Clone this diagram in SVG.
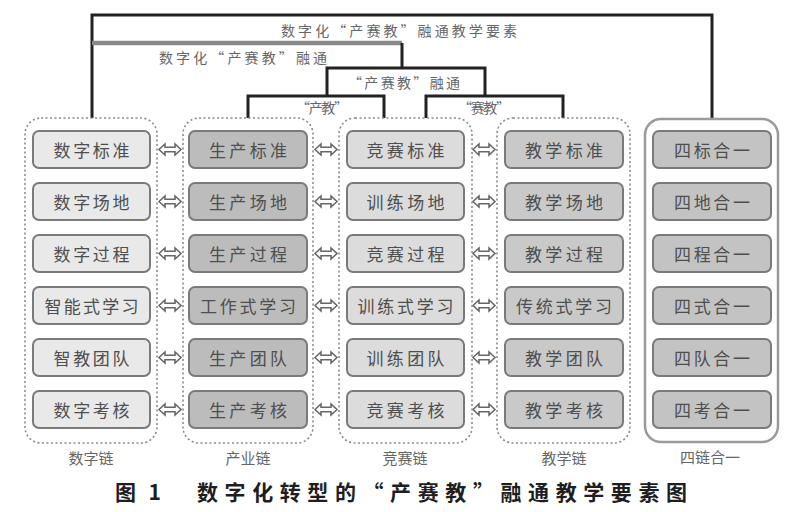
<svg xmlns="http://www.w3.org/2000/svg" xmlns:xlink="http://www.w3.org/1999/xlink" width="800" height="512" viewBox="0 0 800 512">
<style>
text{font-family:"Noto Sans CJK SC","Liberation Sans",sans-serif;}
.bl{font-size:14px;fill:#666;text-anchor:middle;dominant-baseline:central;}
.bt{font-size:17px;fill:#4e4e4e;text-anchor:middle;dominant-baseline:central;}
.cl{font-size:15px;fill:#666;text-anchor:middle;dominant-baseline:central;}
.cap{font-size:21px;font-weight:bold;fill:#1e1e1e;dominant-baseline:central;}
.grp{fill:none;stroke:#8a8a8a;stroke-width:1.6;stroke-dasharray:2 2.5;}
.grp5{fill:none;stroke:#9a9a9a;stroke-width:2.5;}
.box{stroke:#7a7a7a;stroke-width:2;}
.c1{fill:#e9e9e9;}.c2{fill:#bcbcbc;}.c3{fill:#dcdcdc;}.c4{fill:#c9c9c9;}.c5{fill:#c3c3c3;}
.br{fill:none;stroke:#222;stroke-width:3;}
.br2{fill:none;stroke:#8a8a8a;stroke-width:4.5;}
.ar{fill:#fff;stroke:#666;stroke-width:1.5;}
</style>
<defs>
<path id="dar" d="M-11 0 L-5 -5.5 L-5 -2.2 L5 -2.2 L5 -5.5 L11 0 L5 5.5 L5 2.2 L-5 2.2 L-5 5.5 Z"/>
</defs>

<g id="connectors">
<path class="br" d="M92 118 V15 H712 V118"/>
<path class="br2" d="M92 43 H402"/>
<path class="br" d="M402 43 V68"/>
<path class="br" d="M327 96 V68 H485 V96"/>
<path class="br" d="M248 118 V96 H384 V118"/>
<path class="br" d="M426 118 V96 H563 V118"/>
<g class="ar">
<use xlink:href="#dar" x="170" y="149.5"/><use xlink:href="#dar" x="170" y="201.5"/><use xlink:href="#dar" x="170" y="253.5"/><use xlink:href="#dar" x="170" y="305.5"/><use xlink:href="#dar" x="170" y="357.5"/><use xlink:href="#dar" x="170" y="409.5"/>
<use xlink:href="#dar" x="326" y="149.5"/><use xlink:href="#dar" x="326" y="201.5"/><use xlink:href="#dar" x="326" y="253.5"/><use xlink:href="#dar" x="326" y="305.5"/><use xlink:href="#dar" x="326" y="357.5"/><use xlink:href="#dar" x="326" y="409.5"/>
<use xlink:href="#dar" x="484" y="149.5"/><use xlink:href="#dar" x="484" y="201.5"/><use xlink:href="#dar" x="484" y="253.5"/><use xlink:href="#dar" x="484" y="305.5"/><use xlink:href="#dar" x="484" y="357.5"/><use xlink:href="#dar" x="484" y="409.5"/>
</g>
<text class="bl" x="399" y="30" textLength="236" lengthAdjust="spacing">数字化“产赛教”融通教学要素</text>
<text class="bl" x="243" y="57" textLength="168" lengthAdjust="spacing">数字化“产赛教”融通</text>
<text class="bl" x="404" y="82" textLength="112" lengthAdjust="spacing">“产赛教”融通</text>
<text class="bl" x="322" y="107" textLength="52" lengthAdjust="spacing">“产教”</text>
<text class="bl" x="484" y="107" textLength="52" lengthAdjust="spacing">“赛教”</text>
</g>

<g id="chain-digital">
<rect class="grp" x="25" y="118" width="132" height="325" rx="16"/>
<rect class="box c1" x="33" y="131" width="117" height="37" rx="6"/><text class="bt" x="91.5" y="149.5" textLength="76" lengthAdjust="spacing">数字标准</text>
<rect class="box c1" x="33" y="183" width="117" height="37" rx="6"/><text class="bt" x="91.5" y="201.5" textLength="76" lengthAdjust="spacing">数字场地</text>
<rect class="box c1" x="33" y="235" width="117" height="37" rx="6"/><text class="bt" x="91.5" y="253.5" textLength="76" lengthAdjust="spacing">数字过程</text>
<rect class="box c1" x="33" y="287" width="117" height="37" rx="6"/><text class="bt" x="91.5" y="305.5" textLength="94" lengthAdjust="spacing">智能式学习</text>
<rect class="box c1" x="33" y="339" width="117" height="37" rx="6"/><text class="bt" x="91.5" y="357.5" textLength="76" lengthAdjust="spacing">智教团队</text>
<rect class="box c1" x="33" y="391" width="117" height="37" rx="6"/><text class="bt" x="91.5" y="409.5" textLength="76" lengthAdjust="spacing">数字考核</text>
<text class="cl" x="91" y="457">数字链</text>
</g>

<g id="chain-industry">
<rect class="grp" x="183" y="118" width="130" height="325" rx="16"/>
<rect class="box c2" x="189" y="131" width="118" height="37" rx="6"/><text class="bt" x="248" y="149.5" textLength="78" lengthAdjust="spacing">生产标准</text>
<rect class="box c2" x="189" y="183" width="118" height="37" rx="6"/><text class="bt" x="248" y="201.5" textLength="78" lengthAdjust="spacing">生产场地</text>
<rect class="box c2" x="189" y="235" width="118" height="37" rx="6"/><text class="bt" x="248" y="253.5" textLength="78" lengthAdjust="spacing">生产过程</text>
<rect class="box c2" x="189" y="287" width="118" height="37" rx="6"/><text class="bt" x="248" y="305.5" textLength="96" lengthAdjust="spacing">工作式学习</text>
<rect class="box c2" x="189" y="339" width="118" height="37" rx="6"/><text class="bt" x="248" y="357.5" textLength="78" lengthAdjust="spacing">生产团队</text>
<rect class="box c2" x="189" y="391" width="118" height="37" rx="6"/><text class="bt" x="248" y="409.5" textLength="78" lengthAdjust="spacing">生产考核</text>
<text class="cl" x="248" y="457">产业链</text>
</g>

<g id="chain-contest">
<rect class="grp" x="339" y="118" width="133" height="325" rx="16"/>
<rect class="box c3" x="347" y="131" width="117" height="37" rx="6"/><text class="bt" x="405.5" y="149.5" textLength="78" lengthAdjust="spacing">竞赛标准</text>
<rect class="box c3" x="347" y="183" width="117" height="37" rx="6"/><text class="bt" x="405.5" y="201.5" textLength="78" lengthAdjust="spacing">训练场地</text>
<rect class="box c3" x="347" y="235" width="117" height="37" rx="6"/><text class="bt" x="405.5" y="253.5" textLength="78" lengthAdjust="spacing">竞赛过程</text>
<rect class="box c3" x="347" y="287" width="117" height="37" rx="6"/><text class="bt" x="405.5" y="305.5" textLength="96" lengthAdjust="spacing">训练式学习</text>
<rect class="box c3" x="347" y="339" width="117" height="37" rx="6"/><text class="bt" x="405.5" y="357.5" textLength="78" lengthAdjust="spacing">训练团队</text>
<rect class="box c3" x="347" y="391" width="117" height="37" rx="6"/><text class="bt" x="405.5" y="409.5" textLength="78" lengthAdjust="spacing">竞赛考核</text>
<text class="cl" x="405" y="457">竞赛链</text>
</g>

<g id="chain-teaching">
<rect class="grp" x="497" y="118" width="133" height="325" rx="16"/>
<rect class="box c4" x="505" y="131" width="118" height="37" rx="6"/><text class="bt" x="564" y="149.5" textLength="78" lengthAdjust="spacing">教学标准</text>
<rect class="box c4" x="505" y="183" width="118" height="37" rx="6"/><text class="bt" x="564" y="201.5" textLength="78" lengthAdjust="spacing">教学场地</text>
<rect class="box c4" x="505" y="235" width="118" height="37" rx="6"/><text class="bt" x="564" y="253.5" textLength="78" lengthAdjust="spacing">教学过程</text>
<rect class="box c4" x="505" y="287" width="118" height="37" rx="6"/><text class="bt" x="564" y="305.5" textLength="96" lengthAdjust="spacing">传统式学习</text>
<rect class="box c4" x="505" y="339" width="118" height="37" rx="6"/><text class="bt" x="564" y="357.5" textLength="78" lengthAdjust="spacing">教学团队</text>
<rect class="box c4" x="505" y="391" width="118" height="37" rx="6"/><text class="bt" x="564" y="409.5" textLength="78" lengthAdjust="spacing">教学考核</text>
<text class="cl" x="564" y="457">教学链</text>
</g>

<g id="four-in-one">
<rect class="grp5" x="645" y="119" width="133" height="323" rx="16"/>
<rect class="box c5" x="653" y="131" width="118" height="37" rx="6"/><text class="bt" x="712" y="149.5" textLength="76" lengthAdjust="spacing">四标合一</text>
<rect class="box c5" x="653" y="183" width="118" height="37" rx="6"/><text class="bt" x="712" y="201.5" textLength="76" lengthAdjust="spacing">四地合一</text>
<rect class="box c5" x="653" y="235" width="118" height="37" rx="6"/><text class="bt" x="712" y="253.5" textLength="76" lengthAdjust="spacing">四程合一</text>
<rect class="box c5" x="653" y="287" width="118" height="37" rx="6"/><text class="bt" x="712" y="305.5" textLength="76" lengthAdjust="spacing">四式合一</text>
<rect class="box c5" x="653" y="339" width="118" height="37" rx="6"/><text class="bt" x="712" y="357.5" textLength="76" lengthAdjust="spacing">四队合一</text>
<rect class="box c5" x="653" y="391" width="118" height="37" rx="6"/><text class="bt" x="712" y="409.5" textLength="76" lengthAdjust="spacing">四考合一</text>
<text class="cl" x="710" y="456">四链合一</text>
</g>

<g id="caption">
<text class="cap" x="115" y="491" textLength="46" lengthAdjust="spacing">图 1</text>
<text class="cap" x="197" y="491" textLength="490" lengthAdjust="spacing">数字化转型的“产赛教”融通教学要素图</text>
</g>
</svg>
